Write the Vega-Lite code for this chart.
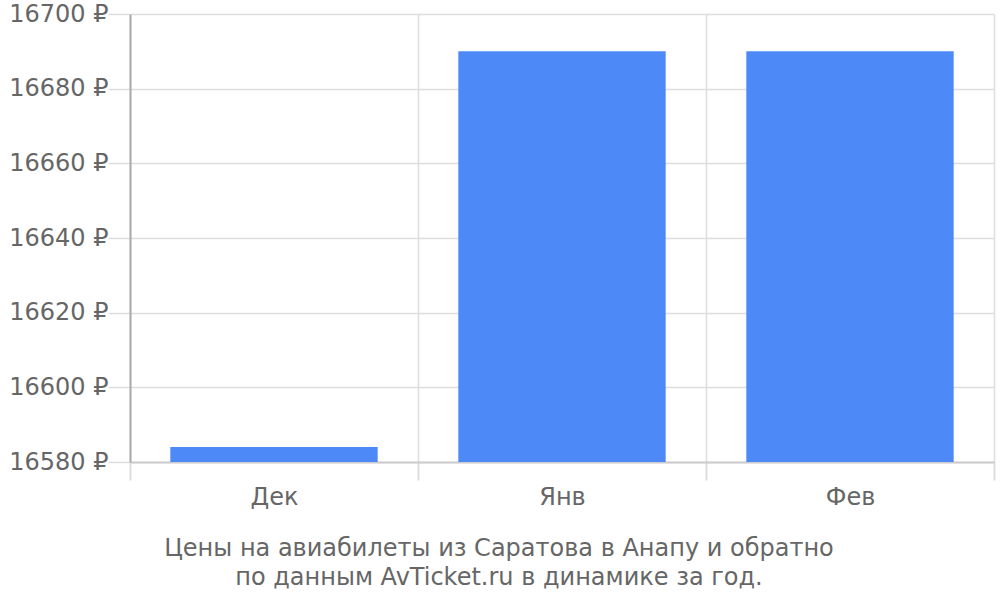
{
  "$schema": "https://vega.github.io/schema/vega-lite/v6.json",
  "width": 864,
  "height": 448,
  "autosize": {"type": "none"},
  "padding": {"left": 130, "top": 14, "right": 6, "bottom": 138},
  "background": "white",
  "config": {
    "font": "DejaVu Sans",
    "view": {"stroke": null}
  },
  "title": {
    "text": ["Цены на авиабилеты из Саратова в Анапу и обратно", "по данным AvTicket.ru в динамике за год."],
    "orient": "bottom",
    "anchor": "middle",
    "dx": -63,
    "offset": 28,
    "fontSize": 24,
    "lineHeight": 29,
    "fontWeight": "normal",
    "color": "#666666",
    "font": "DejaVu Sans"
  },
  "data": {
    "values": [
      {"month": "Дек", "price": 16584},
      {"month": "Янв", "price": 16690},
      {"month": "Фев", "price": 16690}
    ]
  },
  "mark": {"type": "bar", "color": "#4d8af8", "width": {"band": 0.72}},
  "encoding": {
    "x": {
      "field": "month",
      "type": "nominal",
      "sort": null,
      "scale": {"paddingInner": 0, "paddingOuter": 0},
      "axis": {
        "title": null,
        "labelAngle": 0,
        "labelFontSize": 24,
        "labelColor": "#666666",
        "labelPadding": 5,
        "tickBand": "extent",
        "tickSize": 18,
        "tickColor": "#dddddd",
        "tickWidth": 2,
        "grid": true,
        "gridColor": "#dddddd",
        "gridWidth": 1.5,
        "domainColor": "#cccccc",
        "domainWidth": 2
      }
    },
    "y": {
      "field": "price",
      "type": "quantitative",
      "scale": {"domain": [16580, 16700], "nice": false, "zero": false},
      "axis": {
        "title": null,
        "values": [16580, 16600, 16620, 16640, 16660, 16680, 16700],
        "labelExpr": "datum.value + ' ₽'",
        "labelFontSize": 24,
        "labelColor": "#666666",
        "labelPadding": 0,
        "tickSize": 22,
        "tickColor": "#dddddd",
        "tickWidth": 1.5,
        "gridColor": "#dddddd",
        "gridWidth": 1.5,
        "domainColor": "#aaaaaa",
        "domainWidth": 2
      }
    },
    "y2": {"datum": 16580}
  }
}
